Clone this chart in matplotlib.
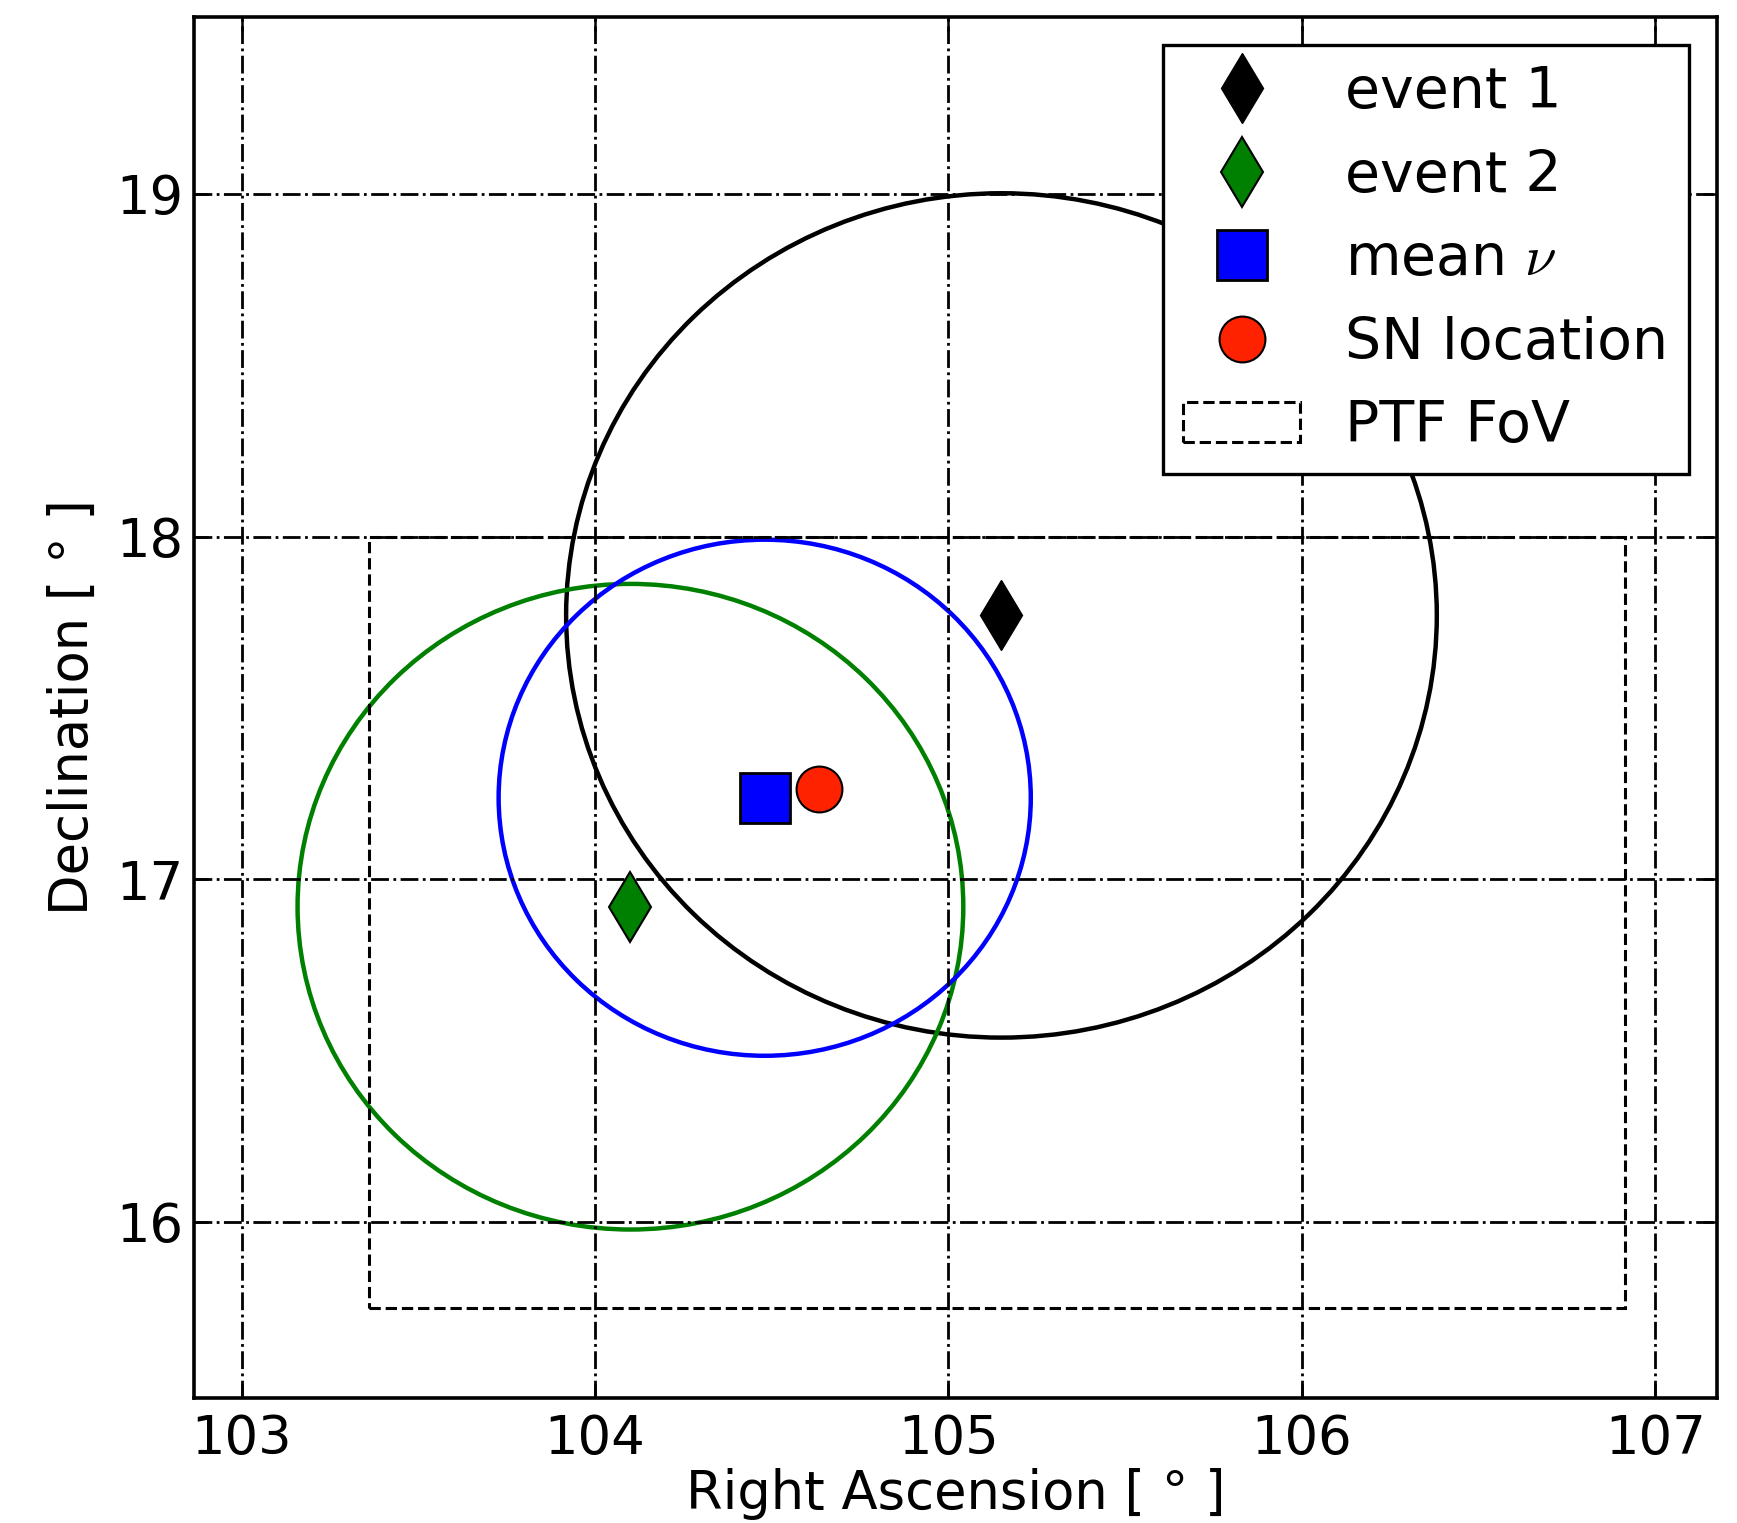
import numpy as np
import matplotlib
matplotlib.use('Agg')
import matplotlib.pyplot as plt
from matplotlib.patches import Circle, Rectangle

# positions in degrees (RA, Dec)
event1 = (105.15, 17.77)
event2 = (104.10, 16.92)
mean_nu = (104.48, 17.238)
sn_loc = (104.634, 17.264)

# error circle radii
r_event1 = 1.232
r_event2 = 0.942
r_mean = 0.753

# PTF field of view (lower-left corner, width, height)
ptf_corner = (103.36, 15.75)
ptf_size = (3.555, 2.25)

xticks = [103, 104, 105, 106, 107]
yticks = [16, 17, 18, 19]

plt.rcParams['font.family'] = 'DejaVu Sans'
plt.rcParams['mathtext.fontset'] = 'cm'

fig = plt.figure(figsize=(17.37, 15.23), dpi=100)
ax = fig.add_subplot(111)
fig.subplots_adjust(left=0.1117, right=0.9885, bottom=0.082, top=0.989)

fs = 38

ax.add_patch(Circle(event1, r_event1, fill=False, ec='k', lw=3.2))
ax.add_patch(Circle(event2, r_event2, fill=False, ec='g', lw=3.2))
ax.add_patch(Circle(mean_nu, r_mean, fill=False, ec='b', lw=3.2))

ax.plot(event1[0], event1[1], 'd', color='k', mec='k', ms=36, label='event 1')
ax.plot(event2[0], event2[1], 'd', color='g', mec='k', mew=1.5, ms=36, label='event 2')
ax.plot(mean_nu[0], mean_nu[1], 's', color='b', mec='k', mew=2, ms=36, label=r'mean $\nu$')
ax.plot(sn_loc[0], sn_loc[1], 'o', color='#ff2200', mec='k', mew=1.5, ms=33, label='SN location')

fov = Rectangle(ptf_corner, ptf_size[0], ptf_size[1], fill=False, ec='k',
                ls='dashed', lw=2.2, label='PTF FoV')
ax.add_patch(fov)

ax.set_xlim(102.865, 107.175)
ax.set_ylim(15.486, 19.517)
ax.set_xticks(xticks)
ax.set_yticks(yticks)
ax.grid(True, color='k', ls='-.', lw=2.0)

ax.tick_params(direction='in', top=True, right=True, length=10, width=1.8,
               labelsize=fs)
ax.tick_params(axis='x', pad=11)
ax.tick_params(axis='y', pad=8)
for s in ax.spines.values():
    s.set_linewidth(2.6)

ax.set_xlabel('Right Ascension [ ° ]', fontsize=fs, labelpad=2)
ax.set_ylabel('Declination [ ° ]', fontsize=fs, labelpad=12)

leg = ax.legend(loc='upper right', numpoints=1, fontsize=41, fancybox=False,
                framealpha=1, edgecolor='k', borderaxespad=0.5,
                handlelength=2.05, labelspacing=0.5, handletextpad=0.8,
                borderpad=0.35)
leg.get_frame().set_linewidth(2.4)

fig.savefig('out.png', dpi=100, facecolor='white')
